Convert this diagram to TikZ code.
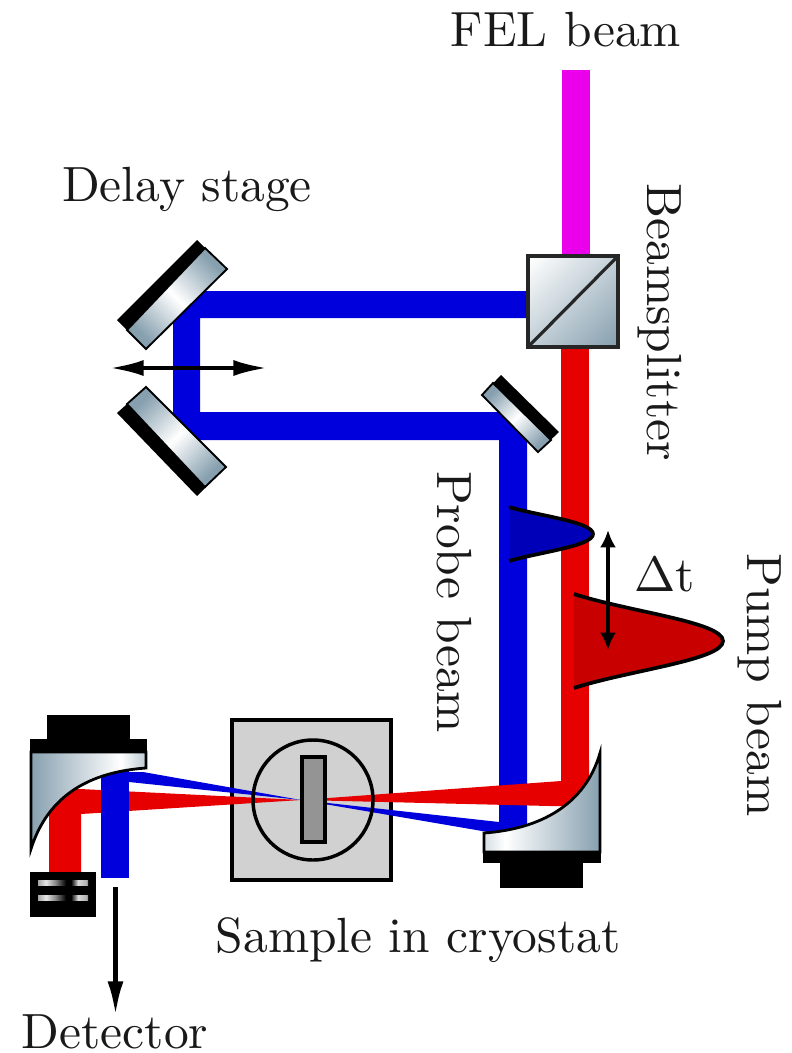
\documentclass[tikz,border=0pt]{standalone}
\usepackage{fontspec}
\usetikzlibrary{arrows.meta}
\definecolor{steel}{RGB}{135,160,175}
\definecolor{beamred}{RGB}{230,0,0}
\definecolor{beamblue}{RGB}{0,0,220}
\definecolor{beammag}{RGB}{235,0,235}
\definecolor{pulsered}{RGB}{200,0,0}
\definecolor{pulseblue}{RGB}{0,0,185}
\pgfdeclarehorizontalshading{leftmirror}{100bp}{color(0bp)=(steel); color(25bp)=(steel); color(64bp)=(white); color(75bp)=(steel!55!white); color(100bp)=(steel!55!white)}
\pgfdeclarehorizontalshading{rightmirror}{100bp}{color(0bp)=(steel!35!white); color(25bp)=(steel!35!white); color(34bp)=(white); color(75bp)=(steel); color(100bp)=(steel)}
\pgfdeclarehorizontalshading{flatmirror}{100bp}{color(0bp)=(steel); color(25bp)=(steel); color(50bp)=(white); color(75bp)=(steel); color(100bp)=(steel)}
\pgfdeclarehorizontalshading{cubeshade}{100bp}{color(0bp)=(white); color(16bp)=(white); color(84bp)=(steel); color(100bp)=(steel)}
\pgfdeclarehorizontalshading{gapshade}{100bp}{color(0bp)=(black!35); color(25bp)=(black!35); color(33bp)=(black!10); color(42bp)=(black!45); color(53bp)=(black); color(58bp)=(black); color(65bp)=(black!15); color(73bp)=(black!30); color(75bp)=(black!50); color(100bp)=(black!50)}
\tikzset{
  x=0.75pt,y=-0.75pt,
  lbl/.style={scale=3.71,inner sep=0pt,text=black!90},
  glassout/.style={draw=black,line width=2.1pt},
  flatout/.style={draw=black,line width=1.4pt},
  dblarrow/.style={line width=3.4pt,{Latex[length=26pt,width=12pt]}-{Latex[length=26pt,width=12pt]}},
  pulseline/.style={draw=black,line width=2.8pt},
}
\begin{document}
\begin{tikzpicture}
\useasboundingbox (0,0) rectangle (792,1053);
% sample holder
\draw[fill=black!18,line width=3pt] (232,720) rectangle (391,880);
% beams
\fill[beammag] (562,70) rectangle (590,258);
\fill[beamblue] (301,800) -- (499,822) -- (499,832) -- (488,832) -- cycle;
\fill[beamblue] (528,291) -- (173,291) -- (173,440) -- (499,440) -- (499,830) -- (527,830) -- (527,412) -- (200,412) -- (200,318) -- (528,318) -- cycle;
\fill[beamred] (561,345) rectangle (589,790);
\fill[beamred] (589,760) -- (589,806) -- (550,806) -- (301,800) -- (561,781) -- (561,760) -- cycle;
\fill[beamred] (301,800) -- (80,789) -- (49,789) -- (49,873) -- (81,873) -- (81,814) -- cycle;
\fill[beamblue] (301,800) -- (143,772) -- (110,772) -- (110,781) -- (129,782) -- cycle;
\fill[beamblue] (101,765) rectangle (129,878);
% sample
\draw[line width=2.6pt] (313,800) circle (60);
\draw[fill=black!42,line width=3pt] (302,757) rectangle (325,842);
% right parabolic mirror
\fill[black] (483,851) rectangle (601,863);
\fill[black] (500,863) rectangle (583,888);
\path[shading=rightmirror,glassout] (484,852) -- (484,833) .. controls (540,829) and (585,805) .. (600,753) -- (600,852) -- cycle;
% left parabolic mirror
\fill[black] (30,739) rectangle (147,753);
\fill[black] (47,715) rectangle (130,740);
\path[shading=leftmirror,glassout] (31,752) -- (146,752) -- (146,768) .. controls (90,772) and (48,795) .. (31,849) -- cycle;
% detector lens stack
\fill[black] (30,872) rectangle (96,917);
\path[shading=gapshade] (38,880) rectangle (88,885);
\path[shading=gapshade] (38,895) rectangle (88,900);
% delay stage mirrors
\fill[black] (197,240) -- (227,269) -- (146,349) -- (117,320) -- cycle;
\path[shading=flatmirror,shading angle=45,flatout] (205,248) -- (227,269) -- (146,349) -- (127,330) -- cycle;
\fill[black] (117,413) -- (146,387) -- (226,467) -- (197,496) -- cycle;
\path[shading=flatmirror,shading angle=-45,flatout] (127,404) -- (146,387) -- (226,467) -- (205,487) -- cycle;
% small mirror
\fill[black] (501,375) -- (559,432) -- (538,452) -- (482,395) -- cycle;
\path[shading=flatmirror,shading angle=-45,flatout] (493,383) -- (551,440) -- (538,452) -- (482,395) -- cycle;
% beamsplitter
\path[shading=cubeshade,shading angle=-45,draw=black!85,line width=2.6pt] (528,256) rectangle (618,347);
\draw[black!85,line width=2.4pt] (528,347) -- (618,256);
% arrows
\draw[dblarrow] (109,368) -- (268,368);
% pulses
\fill[pulseblue] (509,507) .. controls (540,516) and (593,522) .. (593,534) .. controls (593,546) and (540,552) .. (509,561) -- cycle;
\draw[pulseline] (509,507) .. controls (540,516) and (593,522) .. (593,534) .. controls (593,546) and (540,552) .. (509,561);
\fill[pulsered] (574,594) .. controls (630,612) and (723,622) .. (723,641) .. controls (723,660) and (630,670) .. (574,688) -- cycle;
\draw[pulseline] (574,594) .. controls (630,612) and (723,622) .. (723,641) .. controls (723,660) and (630,670) .. (574,688);
\draw[line width=3.4pt,{Latex[length=13pt,width=12pt]}-{Latex[length=13pt,width=12pt]}] (608,530) -- (608,650);
% detector arrow
\draw[line width=3.6pt,-{Latex[length=26pt,width=12pt]}] (115.5,887) -- (115.5,1016);
% labels
\node[lbl] (fel) at (566,30) {FEL beam};
\node[lbl] (delay) at (187,189) {Delay stage};
\node[lbl,rotate=-90] (bs) at (660,322) {Beamsplitter};
\node[lbl,rotate=-90] (probe) at (454,602) {Probe beam};
\node[lbl,rotate=-90] (pump) at (760,685) {Pump beam};
\node[lbl] (dt) at (665,575) {$\Delta$t};
\node[lbl] (sample) at (418,940) {Sample in cryostat};
\node[lbl,anchor=base] (det) at (115,1048) {Detector};
\end{tikzpicture}
\end{document}
